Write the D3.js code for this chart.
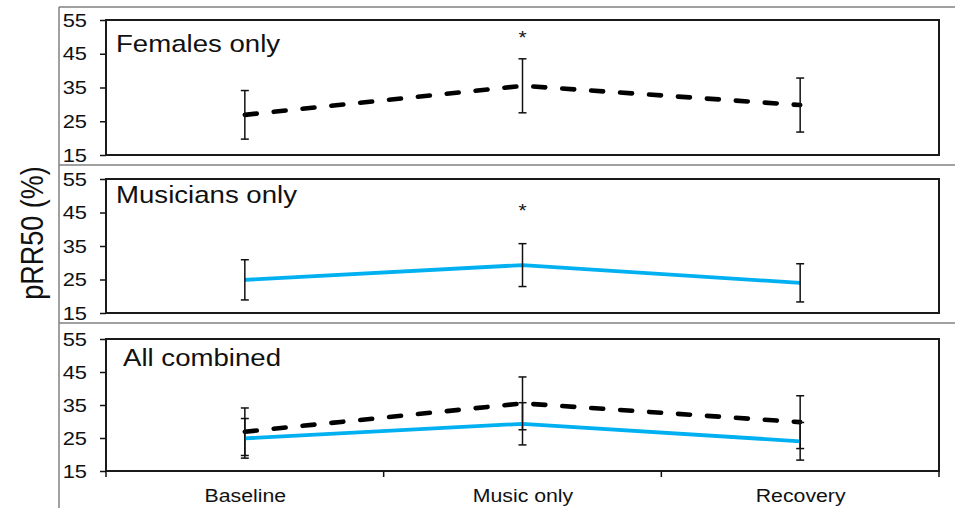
<!DOCTYPE html>
<html><head><meta charset="utf-8">
<script src="https://cdn.jsdelivr.net/npm/d3@7"></script>
<style>
body{margin:0;background:#fff}
svg{display:block}
text{font-family:"Liberation Sans",Arial,sans-serif;fill:#111}
</style>
</head><body><svg id="c" width="955" height="508"></svg>
<script>
// ---- data ----
const categories = ["Baseline", "Music only", "Recovery"];
const femalesMean = [26.9, 35.5, 29.8];
const femalesErr = [7.2, 8.0, 8.0];
const musiciansMean = [24.9, 29.3, 24.0];
const musiciansErr = [6.0, 6.4, 5.7];
const yTicks = [15, 25, 35, 45, 55];
const yDomain = [15, 55];
const panelTitles = ["Females only", "Musicians only", "All combined"];
const sigPanel1 = [null, 51, null];   // asterisk positions (value units)
const sigPanel2 = [null, 46.5, null];
const yLabel = "pRR50 (%)";

// ---- layout ----
const SX = 1.15; // horizontal text stretch as in the reference
const plotLeft = 106, plotRight = 939;
const panels = [
  {top: 20,  bottom: 155, tx: 116, ty: 52,  series: ["f"],      sig: sigPanel1, xAxis: false},
  {top: 179, bottom: 313, tx: 116, ty: 203, series: ["m"],      sig: sigPanel2, xAxis: false},
  {top: 339, bottom: 471, tx: 123, ty: 366, series: ["f", "m"], sig: null,      xAxis: true}
];
const seriesDefs = {
  f: {mean: femalesMean, err: femalesErr, color: "#000", width: 4.6, dash: "12,17", cap: "round"},
  m: {mean: musiciansMean, err: musiciansErr, color: "#00B0F0", width: 3.8, dash: null, cap: "butt"}
};

const svg = d3.select("#c");

// outer frame (gray)
const frame = svg.append("g").attr("stroke", "#808080").attr("stroke-width", 1.5);
frame.append("line").attr("x1", 59).attr("x2", 59).attr("y1", 7).attr("y2", 508);
[7, 165, 323].forEach(yy => frame.append("line").attr("x1", 59).attr("x2", 955).attr("y1", yy).attr("y2", yy));

const x = d3.scalePoint().domain(categories).range([plotLeft, plotRight]).padding(0.5);
const band = d3.scaleBand().domain(categories).range([plotLeft, plotRight]);

panels.forEach((p, pi) => {
  const g = svg.append("g");
  const y = d3.scaleLinear().domain(yDomain).range([p.bottom, p.top]);

  // y axis
  const ay = g.append("g").attr("transform", `translate(${plotLeft},0)`)
    .call(d3.axisLeft(y).tickValues(yTicks).tickSize(6).tickSizeOuter(0).tickFormat(d3.format("d")));
  ay.select(".domain").remove();
  ay.selectAll(".tick line").attr("stroke", "#111").attr("stroke-width", 1.5);
  ay.selectAll(".tick text").attr("x", -19 / SX).attr("transform", `scale(${SX},1)`)
    .style("font-size", "19px").attr("fill", "#111");

  // plot box
  g.append("rect").attr("x", plotLeft).attr("y", p.top)
    .attr("width", plotRight - plotLeft).attr("height", p.bottom - p.top)
    .attr("fill", "none").attr("stroke", "#1a1a1a").attr("stroke-width", 2);

  // title
  g.append("g").attr("transform", `translate(${p.tx},${p.ty}) scale(${SX},1)`)
    .append("text").text(panelTitles[pi]).style("font-size", "24px");

  // series
  p.series.forEach(key => {
    const s = seriesDefs[key];
    const pts = categories.map((c, i) => ({c, v: s.mean[i], e: s.err[i]}));
    const line = d3.line().x(d => x(d.c)).y(d => y(d.v));
    g.append("path").datum(pts).attr("d", line).attr("fill", "none")
      .attr("stroke", s.color).attr("stroke-width", s.width)
      .attr("stroke-dasharray", s.dash).attr("stroke-linecap", s.cap);
    const eb = g.append("g").attr("stroke", "#111").attr("stroke-width", 1.5);
    pts.forEach(d => {
      const cx = x(d.c), y1 = y(d.v + d.e), y2 = y(d.v - d.e);
      eb.append("line").attr("x1", cx).attr("x2", cx).attr("y1", y1).attr("y2", y2);
      eb.append("line").attr("x1", cx - 4).attr("x2", cx + 4).attr("y1", y1).attr("y2", y1);
      eb.append("line").attr("x1", cx - 4).attr("x2", cx + 4).attr("y1", y2).attr("y2", y2);
    });
  });

  // significance asterisks
  if (p.sig) {
    p.sig.forEach((v, i) => {
      if (v == null) return;
      g.append("g").attr("transform", `translate(${x(categories[i])},${y(v) + 10}) scale(${SX},1)`)
        .append("text").attr("text-anchor", "middle").style("font-size", "18px").text("*");
    });
  }

  // x axis (bottom panel only)
  if (p.xAxis) {
    const bounds = categories.map(c => band(c)).concat([band.range()[1]]);
    g.append("g").attr("stroke", "#111").attr("stroke-width", 1.5)
      .selectAll("line").data(bounds).join("line")
      .attr("x1", d => d).attr("x2", d => d).attr("y1", p.bottom).attr("y2", p.bottom + 6);
    const ax = g.append("g").attr("transform", `translate(0,${p.bottom})`)
      .call(d3.axisBottom(x).tickSize(0));
    ax.select(".domain").remove();
    ax.selectAll(".tick text").attr("y", 31).attr("dy", null)
      .attr("transform", `scale(${SX},1)`).style("font-size", "18.5px").attr("fill", "#111");
  }
});

// y label
svg.append("g").attr("transform", `translate(43,233) scale(${SX},1) rotate(-90)`)
  .append("text").attr("text-anchor", "middle").style("font-size", "27px").text(yLabel);
</script></body></html>
